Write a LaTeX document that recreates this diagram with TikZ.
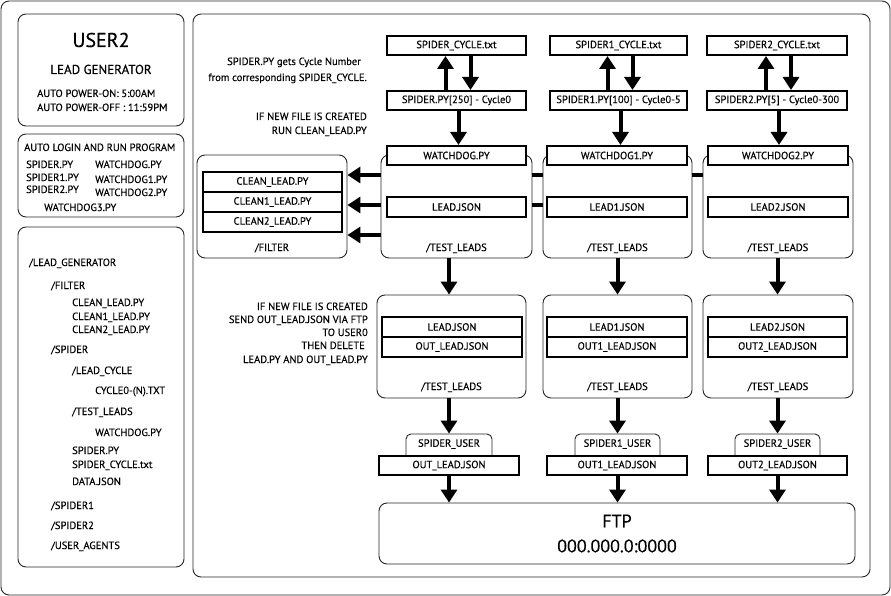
\documentclass[tikz,border=0pt]{standalone}
\usepackage{fontspec}
\setmainfont{PT Sans}[FakeBold=0.35]
\usetikzlibrary{arrows.meta}
\begin{document}
\begin{tikzpicture}[x=1pt,y=-1pt,
  every node/.style={font=\fontsize{10.5}{12}\selectfont, text=black},
  panel/.style={draw=black!85, line width=0.9pt, rounded corners=8pt, fill=white, inner sep=0pt},
  filebox/.style={draw=black, line width=2pt, fill=white, inner sep=0pt, minimum height=19pt},
  tabbox/.style={draw=black!85, line width=0.9pt, rounded corners=5pt, fill=white, inner sep=0pt, minimum height=26pt},
  flow/.style={line width=4pt, -{Triangle[width=16pt,length=13pt]}},
  link/.style={line width=4pt},
  lbl/.style={inner sep=0pt, anchor=base},
  note/.style={inner sep=0pt, anchor=base east},
  tree/.style={inner sep=0pt, anchor=base west},
]
\useasboundingbox (0,0) rectangle (891,596);
\fill[white] (0,0) rectangle (891,596);

% frames
\node[panel, minimum width=889pt, minimum height=594pt] (outer) at (445.5,298) {};
\node[panel, minimum width=166pt, minimum height=112pt] (infobox) at (101,70) {};
\node[panel, minimum width=166pt, minimum height=83pt] (loginbox) at (101,175.5) {};
\node[panel, minimum width=166pt, minimum height=340pt] (treebox) at (101,397) {};
\node[panel, minimum width=677pt, minimum height=563pt] (flowbox) at (531.5,295.5) {};

% machine info
\node[lbl, font=\fontsize{20}{24}\selectfont] (title) at (101,47) {USER2};
\node[lbl, font=\fontsize{13}{15}\selectfont] (role) at (101,74) {LEAD GENERATOR};
\node[tree] (pon) at (37,97) {AUTO POWER-ON: 5:00AM};
\node[tree] (poff) at (37,111) {AUTO POWER-OFF : 11:59PM};

% autostart list
\node[tree] (autohdr) at (24,151) {AUTO LOGIN AND RUN PROGRAM};
\node[tree] (as0) at (26,168) {SPIDER.PY};
\node[tree] (as1) at (26,181) {SPIDER1.PY};
\node[tree] (as2) at (26,193) {SPIDER2.PY};
\node[tree] (aw0) at (95,168) {WATCHDOG.PY};
\node[tree] (aw1) at (95,183) {WATCHDOG1.PY};
\node[tree] (aw2) at (95,196) {WATCHDOG2.PY};
\node[tree] (aw3) at (44,211) {WATCHDOG3.PY};

% directory tree
\node[tree] (d0) at (29,266) {/LEAD\_GENERATOR};
\node[tree] (d1) at (51,289) {/FILTER};
\node[tree] (d2) at (72,306) {CLEAN\_LEAD.PY};
\node[tree] (d3) at (72,320) {CLEAN1\_LEAD.PY};
\node[tree] (d4) at (72,333) {CLEAN2\_LEAD.PY};
\node[tree] (d5) at (51,353) {/SPIDER};
\node[tree] (d6) at (72,374) {/LEAD\_CYCLE};
\node[tree] (d7) at (95,394) {CYCLE0-(N).TXT};
\node[tree] (d8) at (72,415) {/TEST\_LEADS};
\node[tree] (d9) at (95,436) {WATCHDOG.PY};
\node[tree] (d10) at (72,454) {SPIDER.PY};
\node[tree] (d11) at (72,468) {SPIDER\_CYCLE.txt};
\node[tree] (d12) at (72,485) {DATA.JSON};
\node[tree] (d13) at (51,509) {/SPIDER1};
\node[tree] (d14) at (51,529) {/SPIDER2};
\node[tree] (d15) at (51,549) {/USER\_AGENTS};

% notes
\node[note] (n1) at (361,65) {SPIDER.PY gets Cycle Number};
\node[note] (n2) at (367,81) {from corresponding SPIDER\_CYCLE.};
\node[note] (n3) at (367,120) {IF NEW FILE IS CREATED};
\node[note] (n4) at (367,134) {RUN CLEAN\_LEAD.PY};
\node[note] (n5) at (368,310) {IF NEW FILE IS CREATED};
\node[note] (n6) at (368,323) {SEND OUT\_LEAD.JSON VIA FTP};
\node[note] (n7) at (368,336) {TO USER0};
\node[note] (n8) at (365,349) {THEN DELETE};
\node[note] (n9) at (368,363) {LEAD.PY AND OUT\_LEAD.PY};

% cycle files and spiders
\node[filebox, minimum width=139pt] (sc1) at (456.5,45.5) {SPIDER\_CYCLE.txt};
\node[filebox, minimum width=137pt] (sc2) at (618.5,45.5) {SPIDER1\_CYCLE.txt};
\node[filebox, minimum width=140pt] (sc3) at (777,45.5) {SPIDER2\_CYCLE.txt};
\node[filebox, minimum width=139pt] (sp1) at (456.5,100.5) {SPIDER.PY[250] - Cycle0};
\node[filebox, minimum width=137pt] (sp2) at (618.5,100.5) {SPIDER1.PY[100] - Cycle0-5};
\node[filebox, minimum width=140pt] (sp3) at (777,100.5) {SPIDER2.PY[5] - Cycle0-300};

% filter folder
\node[panel, minimum width=150pt, minimum height=103pt] (filt) at (272,206.5) {};
\node[filebox, minimum width=139pt, minimum height=20pt] (cl0) at (272.5,182) {CLEAN\_LEAD.PY};
\node[filebox, minimum width=139pt, minimum height=20pt] (cl1) at (272.5,202) {CLEAN1\_LEAD.PY};
\node[filebox, minimum width=139pt, minimum height=20pt] (cl2) at (272.5,222) {CLEAN2\_LEAD.PY};
\node[lbl] (filtlbl) at (272,251) {/FILTER};

% test lead folders (upper row)
\node[panel, minimum width=151pt, minimum height=103pt] (tu1) at (456.5,206.5) {};
\node[panel, minimum width=149pt, minimum height=103pt] (tu2) at (617.5,206.5) {};
\node[panel, minimum width=150pt, minimum height=103pt] (tu3) at (778,206.5) {};
\node[filebox, minimum width=139pt] (wd1) at (456.5,155.5) {WATCHDOG.PY};
\node[filebox, minimum width=140pt] (wd2) at (617,155.5) {WATCHDOG1.PY};
\node[filebox, minimum width=140pt] (wd3) at (778,155.5) {WATCHDOG2.PY};
\node[filebox, minimum width=139pt, minimum height=20pt] (lj1) at (456.5,207) {LEAD.JSON};
\node[filebox, minimum width=140pt, minimum height=20pt] (lj2) at (617,207) {LEAD1.JSON};
\node[filebox, minimum width=140pt, minimum height=20pt] (lj3) at (778,207) {LEAD2.JSON};
\node[lbl] (tul1) at (456.5,251) {/TEST\_LEADS};
\node[lbl] (tul2) at (617.5,251) {/TEST\_LEADS};
\node[lbl] (tul3) at (778,251) {/TEST\_LEADS};

% test lead folders (lower row)
\node[panel, minimum width=149pt, minimum height=103pt] (tl1) at (451.5,346.5) {};
\node[panel, minimum width=149pt, minimum height=103pt] (tl2) at (617.5,346.5) {};
\node[panel, minimum width=150pt, minimum height=103pt] (tl3) at (778,346.5) {};
\node[filebox, minimum width=140pt, minimum height=20pt] (lk1) at (452,327) {LEAD.JSON};
\node[filebox, minimum width=140pt, minimum height=20pt] (lk2) at (617,327) {LEAD1.JSON};
\node[filebox, minimum width=139pt, minimum height=20pt] (lk3) at (777.5,327) {LEAD2.JSON};
\node[filebox, minimum width=140pt, minimum height=20pt] (oj1) at (452,347) {OUT\_LEAD.JSON};
\node[filebox, minimum width=140pt, minimum height=20pt] (oj2) at (617,347) {OUT1\_LEAD.JSON};
\node[filebox, minimum width=139pt, minimum height=20pt] (oj3) at (777.5,347) {OUT2\_LEAD.JSON};
\node[lbl] (tll1) at (451.5,390) {/TEST\_LEADS};
\node[lbl] (tll2) at (617.5,390) {/TEST\_LEADS};
\node[lbl] (tll3) at (778,390) {/TEST\_LEADS};

% spider user accounts
\node[tabbox, minimum width=86pt, text depth=8pt] (tab1) at (449,447) {SPIDER\_USER};
\node[tabbox, minimum width=85pt, text depth=8pt] (tab2) at (617.5,447) {SPIDER1\_USER};
\node[tabbox, minimum width=85pt, text depth=8pt] (tab3) at (777.5,447) {SPIDER2\_USER};
\node[filebox, minimum width=140pt] (ou1) at (449,465.5) {OUT\_LEAD.JSON};
\node[filebox, minimum width=140pt] (ou2) at (617,465.5) {OUT1\_LEAD.JSON};
\node[filebox, minimum width=139pt] (ou3) at (777.5,465.5) {OUT2\_LEAD.JSON};

% ftp server
\node[panel, minimum width=476pt, minimum height=61pt, align=center,
      font=\fontsize{18}{25}\selectfont] (ftp) at (617,533.5) {FTP\\000.000.0:0000};

% row heights for the side arrows
\coordinate (rowA) at (0,175);
\coordinate (rowB) at (0,205);
\coordinate (rowC) at (0,235);

% cycle exchange and downward flow
\foreach \i in {1,2,3} {
  \draw[flow] ([xshift=-11pt]sp\i.north) -- ([xshift=-11pt]sc\i.south);
  \draw[flow] ([xshift=14pt]sc\i.south) -- ([xshift=14pt]sp\i.north);
  \draw[flow] ([xshift=2pt]sp\i.south) -- ([xshift=2pt]sp\i.south |- wd\i.north);
  \draw[flow] (tu\i.south -| tab\i.north) -- (tl\i.north -| tab\i.north);
  \draw[flow] (tl\i.south -| tab\i.north) -- (tab\i.north);
  \draw[flow] (ou\i.south -| tab\i.north) -- (ftp.north -| tab\i.north);
}

% hand-off to the filter
\draw[flow] (tu1.west |- rowA) -- (filt.east |- rowA);
\draw[flow] (tu1.west |- rowB) -- (filt.east |- rowB);
\draw[flow] (tu1.west |- rowC) -- (filt.east |- rowC);
\draw[link] (tu1.east |- rowA) -- (tu2.west |- rowA);
\draw[link] (tu1.east |- rowB) -- (tu2.west |- rowB);
\draw[link] (tu2.east |- rowA) -- (tu3.west |- rowA);
\end{tikzpicture}
\end{document}
